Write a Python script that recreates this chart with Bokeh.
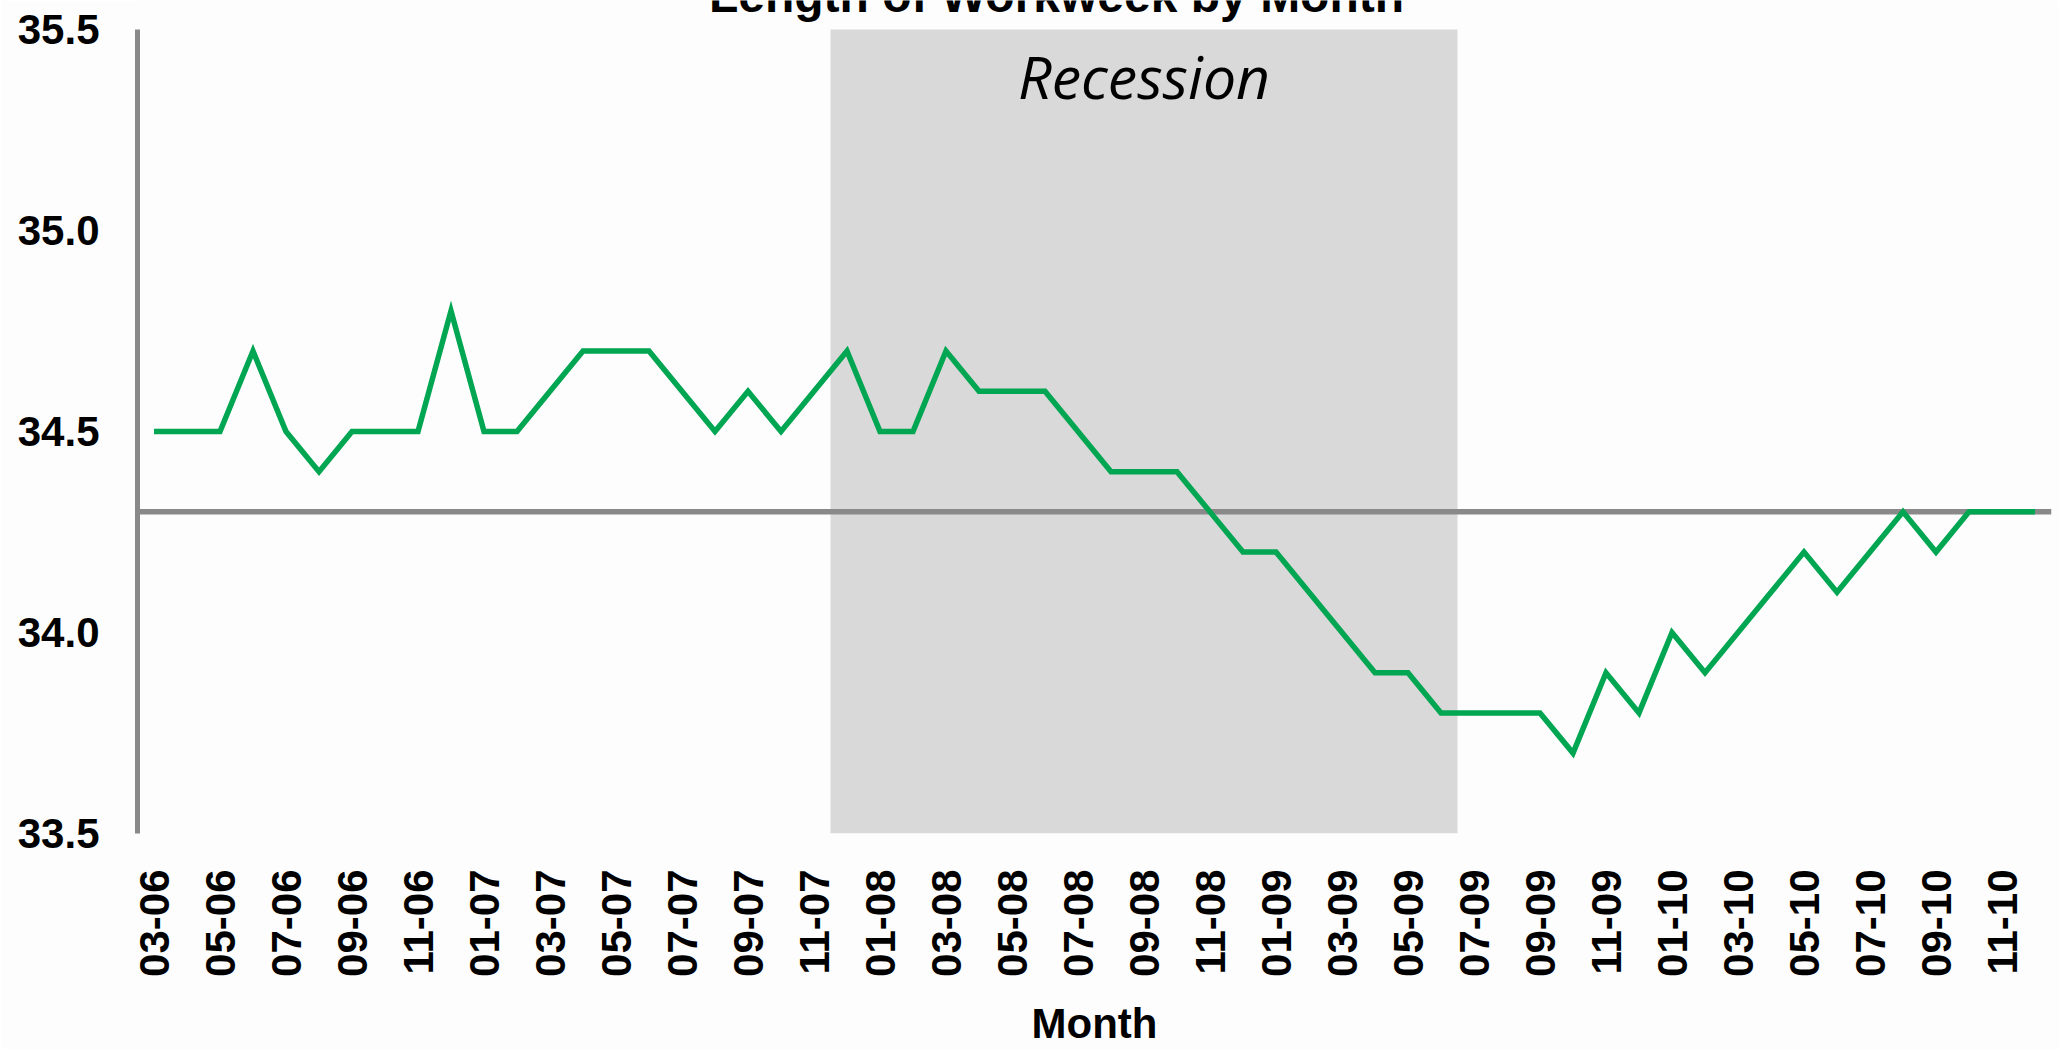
import math
from bokeh.plotting import figure
from bokeh.models import Range1d, FixedTicker, BoxAnnotation, Span, Label
from bokeh.embed import file_html
from bokeh.resources import INLINE

# ---------------- data ----------------
months = [
    "03-06", "04-06", "05-06", "06-06", "07-06", "08-06", "09-06", "10-06", "11-06", "12-06",
    "01-07", "02-07", "03-07", "04-07", "05-07", "06-07", "07-07", "08-07", "09-07", "10-07", "11-07", "12-07",
    "01-08", "02-08", "03-08", "04-08", "05-08", "06-08", "07-08", "08-08", "09-08", "10-08", "11-08", "12-08",
    "01-09", "02-09", "03-09", "04-09", "05-09", "06-09", "07-09", "08-09", "09-09", "10-09", "11-09", "12-09",
    "01-10", "02-10", "03-10", "04-10", "05-10", "06-10", "07-10", "08-10", "09-10", "10-10", "11-10", "12-10",
]
workweek_hours = [
    34.5, 34.5, 34.5, 34.7, 34.5, 34.4, 34.5, 34.5, 34.5, 34.8,
    34.5, 34.5, 34.6, 34.7, 34.7, 34.7, 34.6, 34.5, 34.6, 34.5, 34.6, 34.7,
    34.5, 34.5, 34.7, 34.6, 34.6, 34.6, 34.5, 34.4, 34.4, 34.4, 34.3, 34.2,
    34.2, 34.1, 34.0, 33.9, 33.9, 33.8, 33.8, 33.8, 33.8, 33.7, 33.9, 33.8,
    34.0, 33.9, 34.0, 34.1, 34.2, 34.1, 34.2, 34.3, 34.2, 34.3, 34.3, 34.3,
]
y_ticks = [33.5, 34.0, 34.5, 35.0, 35.5]
axis_cross_value = 34.3
recession_start = "12-07"
recession_end = "06-09"
label_every = 2

title_text = "Length of Workweek by Month"
x_title = "Month"
shade_text = "Recession"

# ---------------- layout / style ----------------
W, H = 2059, 1049
BORDER_LEFT, BORDER_RIGHT, BORDER_BOTTOM = 137, 8, 214
TOP_PAD_PX = 29                      # space above the 35.5 line, kept inside the frame
BG = "#FDFDFD"
GRAY = "#898989"
GREEN = "#00A651"

xs = list(range(len(months)))
x_start, x_end = -0.5, len(months) - 0.5

y_lo, y_hi = y_ticks[0], y_ticks[-1]
frame_h = H - BORDER_BOTTOM
plot_px = frame_h - TOP_PAD_PX
y_top = y_hi + TOP_PAD_PX * (y_hi - y_lo) / plot_px

p = figure(
    width=W, height=H,
    x_range=Range1d(x_start, x_end),
    y_range=Range1d(y_lo, y_top),
    output_backend="svg", toolbar_location=None,
    min_border_left=BORDER_LEFT, min_border_right=BORDER_RIGHT,
    min_border_top=0, min_border_bottom=BORDER_BOTTOM,
    background_fill_color=BG, border_fill_color=BG,
)
p.outline_line_color = None
p.xgrid.visible = False
p.ygrid.visible = False

# recession shading
rs = months.index(recession_start) - 0.5
re_ = months.index(recession_end) + 0.5
p.add_layout(BoxAnnotation(left=rs, right=re_, bottom=y_lo, top=y_hi,
                           fill_color="#D9D9D9", fill_alpha=1.0,
                           line_color=None, level="underlay"))

# horizontal axis line crossing at 34.3
p.add_layout(Span(location=axis_cross_value, dimension="width", line_color=GRAY,
                  line_width=5.5, level="underlay"))

# data line
p.line(xs, workweek_hours, line_color=GREEN, line_width=5.5, line_join="miter")

# x axis
xa = p.xaxis[0]
xa.ticker = FixedTicker(ticks=xs[::label_every])
xa.major_label_overrides = {i: months[i] for i in xs[::label_every]}
xa.major_label_orientation = math.pi / 2
xa.axis_line_color = None
xa.major_tick_line_color = None
xa.minor_tick_line_color = None
xa.major_tick_out = 0
xa.major_tick_in = 0
xa.major_label_standoff = 36
xa.major_label_text_font = "Liberation Sans"
xa.major_label_text_font_style = "bold"
xa.major_label_text_font_size = "42px"
xa.major_label_text_color = "#000000"
xa.axis_label = x_title
xa.axis_label_standoff = 20
xa.axis_label_text_font = "Liberation Sans"
xa.axis_label_text_font_style = "bold"
xa.axis_label_text_font_size = "42px"
xa.axis_label_text_color = "#000000"

# y axis
ya = p.yaxis[0]
ya.ticker = FixedTicker(ticks=y_ticks)
ya.bounds = (y_lo, y_hi)
ya.major_label_overrides = {v: f"{v:.1f}" for v in y_ticks}
ya.axis_line_color = GRAY
ya.axis_line_width = 5
ya.major_tick_line_color = None
ya.minor_tick_line_color = None
ya.major_tick_out = 0
ya.major_tick_in = 0
ya.major_label_standoff = 38
ya.major_label_text_font = "Liberation Sans"
ya.major_label_text_font_style = "bold"
ya.major_label_text_font_size = "42px"
ya.major_label_text_color = "#000000"

x_mid = (x_start + x_end) / 2

# title (cut off at the top, as in the source)
p.add_layout(Label(x=x_mid, y=y_hi, x_offset=-38, y_offset=34, text=title_text,
                   text_font="Liberation Sans", text_font_style="bold", text_font_size="48px",
                   text_align="center", text_baseline="alphabetic", text_color="#000000"))

# shading label
p.add_layout(Label(x=(rs + re_) / 2, y=y_hi, y_offset=-47, text=shade_text,
                   text_font="Open Sans", text_font_style="italic", text_font_size="59px",
                   text_align="center", text_baseline="alphabetic", text_color="#000000"))

open("out.html", "w").write(file_html(p, INLINE))
